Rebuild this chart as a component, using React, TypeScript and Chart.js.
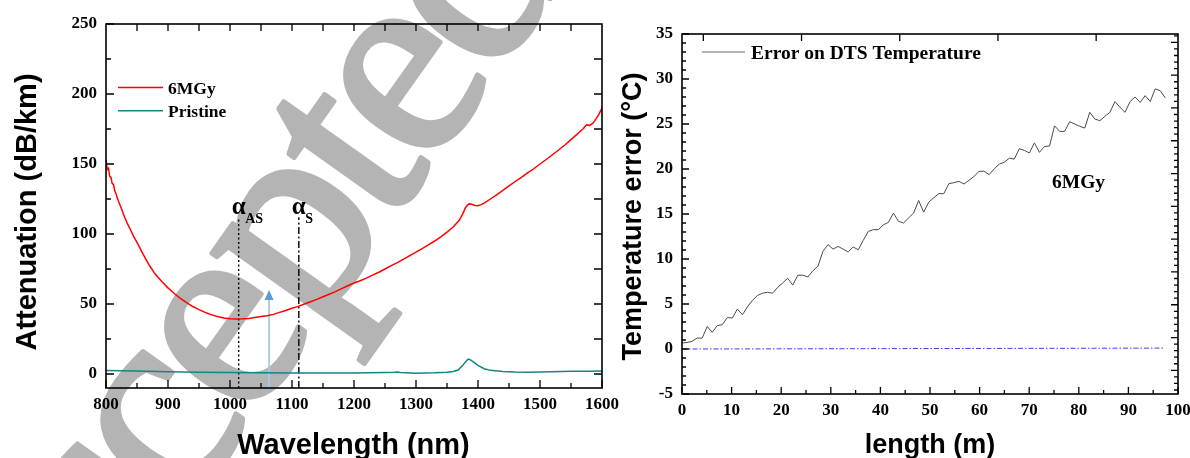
import React, { useEffect, useRef } from 'react';
import { Chart, registerables } from 'chart.js';

Chart.register(...registerables);

// ---------------- Left panel data ----------------
const wl6MGy = [800, 802, 804, 806, 808, 810, 812, 814, 816, 818, 820, 825, 830, 835, 840, 845, 850, 860, 870, 880, 890, 900, 910, 920, 930, 940, 950, 960, 970, 980, 990, 1000, 1010, 1020, 1030, 1040, 1050, 1060, 1070, 1080, 1090, 1100, 1110, 1120, 1130, 1140, 1150, 1160, 1170, 1180, 1190, 1200, 1210, 1220, 1230, 1240, 1250, 1260, 1270, 1280, 1290, 1300, 1310, 1320, 1330, 1340, 1350, 1360, 1370, 1375, 1380, 1385, 1390, 1395, 1400, 1405, 1410, 1420, 1430, 1440, 1450, 1460, 1470, 1480, 1490, 1500, 1510, 1520, 1530, 1540, 1550, 1560, 1570, 1575, 1580, 1585, 1590, 1595, 1600];
const att6MGy = [153, 146, 147, 141, 140.5, 136, 135.5, 131, 129, 126, 123.5, 118, 112, 107, 102.5, 98, 94, 85.5, 77.5, 71, 66, 61.5, 57.5, 54, 51, 48.2, 46, 44, 42.3, 41, 40, 39.5, 39.3, 39.4, 39.7, 40.3, 41, 41.6, 42.6, 44, 45.4, 47, 48.3, 50, 51.6, 53.3, 55.2, 57, 58.8, 61, 63, 65, 66.6, 68.5, 70.6, 72.7, 75, 77.4, 79.6, 82, 84.6, 87, 89.6, 92.2, 95, 98, 101.4, 105, 110, 114, 119, 121.5, 121.2, 120.4, 120.2, 121, 122, 125, 128, 131.2, 134.3, 137.5, 140.5, 143.6, 146.6, 150, 153.2, 156.6, 160, 163.6, 167.4, 171.3, 175.4, 178, 177.6, 179, 182, 185.5, 190];

const wlPristine = [800, 850, 900, 950, 1000, 1050, 1100, 1150, 1200, 1250, 1265, 1270, 1275, 1300, 1330, 1350, 1360, 1368, 1375, 1380, 1384, 1388, 1393, 1400, 1410, 1420, 1440, 1460, 1480, 1500, 1520, 1550, 1580, 1600];
const attPristine = [2.5, 2.2, 1.6, 1.3, 1.0, 0.9, 0.8, 0.8, 0.8, 1.0, 1.2, 1.4, 1.1, 0.6, 0.9, 1.3, 1.8, 2.8, 6.0, 8.8, 10.6, 10.0, 8.5, 6.2, 3.8, 2.6, 1.7, 1.4, 1.3, 1.4, 1.6, 1.9, 2.0, 2.1];

const leftSeriesLabels = ['6MGy', 'Pristine'];
const leftXTicks = [800, 900, 1000, 1100, 1200, 1300, 1400, 1500, 1600];
const leftYTicks = [0, 50, 100, 150, 200, 250];

// alpha markers (wavelength, top value) and excitation arrow
const alphaWl = [1014, 1111];
const alphaTop = [112, 112];
const alphaSubs = ['AS', 'S'];
const arrowWl = 1063;
const arrowTop = 60;

// ---------------- Right panel data ----------------
const lengthM = [0, 1.02, 2.03, 3.05, 4.06, 5.08, 6.09, 7.11, 8.12, 9.14, 10.15, 11.17, 12.18, 13.2, 14.21, 15.23, 16.24, 17.26, 18.27, 19.29, 20.3, 21.32, 22.33, 23.35, 24.36, 25.38, 26.39, 27.41, 28.42, 29.44, 30.45, 31.47, 32.48, 33.5, 34.51, 35.53, 36.54, 37.56, 38.57, 39.59, 40.6, 41.62, 42.63, 43.65, 44.66, 45.68, 46.69, 47.71, 48.72, 49.74, 50.75, 51.77, 52.78, 53.8, 54.81, 55.83, 56.84, 57.86, 58.87, 59.89, 60.9, 61.92, 62.93, 63.95, 64.96, 65.98, 66.99, 68.01, 69.02, 70.04, 71.05, 72.07, 73.08, 74.1, 75.11, 76.13, 77.14, 78.16, 79.17, 80.19, 81.2, 82.22, 83.23, 84.25, 85.26, 86.28, 87.29, 88.31, 89.32, 90.34, 91.35, 92.37, 93.38, 94.4, 95.41, 96.43, 97.44];
const tempError = [0.67, 0.72, 0.85, 1.22, 1.2, 2.5, 1.85, 2.6, 2.7, 3.5, 3.44, 4.44, 3.8, 4.7, 5.4, 5.95, 6.2, 6.3, 6.2, 6.85, 7.33, 7.85, 7.1, 8.2, 8.2, 8.0, 8.7, 9.2, 10.85, 11.6, 11.1, 11.4, 11.1, 10.78, 11.33, 11.03, 12.07, 13.07, 13.26, 13.26, 13.8, 14.07, 15.1, 14.18, 14.0, 14.56, 15.1, 16.5, 15.2, 16.3, 16.8, 17.26, 17.26, 18.37, 18.48, 18.63, 18.33, 18.74, 19.18, 19.74, 19.76, 19.37, 20.0, 20.55, 20.74, 21.2, 21.1, 22.26, 22.07, 21.78, 22.9, 21.85, 22.5, 22.55, 24.8, 24.18, 24.18, 25.26, 25.0, 24.74, 24.55, 26.3, 25.55, 25.37, 25.85, 26.3, 27.5, 26.85, 26.3, 27.5, 28.0, 27.4, 28.15, 27.5, 28.9, 28.7, 27.9];
const refLengthM = [0, 22, 97.4];
const refError = [0, 0.02, 0.1];
const rightSeriesLabel = 'Error on DTS Temperature';
const rightAnnotation = '6MGy';
const rightXTicks = [0, 10, 20, 30, 40, 50, 60, 70, 80, 90, 100];
const rightYTicks = [-5, 0, 5, 10, 15, 20, 25, 30, 35];

// ---------------- helpers ----------------
const SERIF = '"Liberation Serif", "Times New Roman", serif';
const SANS = '"Liberation Sans", Arial, sans-serif';
const tickFont = { family: SERIF, size: 17, weight: 'bold' as const };

function range(a: number, b: number, step: number): number[] {
  const r: number[] = [];
  for (let v = a; v <= b + 1e-9; v += step) r.push(+v.toFixed(4));
  return r;
}

type TickSpec = { side: 'bottom' | 'top' | 'left' | 'right'; values: number[]; len: number };

function frameTicksPlugin(specs: TickSpec[]) {
  return {
    id: 'frameTicks',
    afterDatasetsDraw(chart: any) {
      const { ctx, chartArea: a } = chart;
      const xs = chart.scales.x;
      const ys = chart.scales.y;
      ctx.save();
      ctx.strokeStyle = '#000';
      ctx.lineWidth = 1.3;
      ctx.beginPath();
      for (const s of specs) {
        for (const v of s.values) {
          if (s.side === 'bottom' || s.side === 'top') {
            const p = xs.getPixelForValue(v);
            if (p < a.left - 0.5 || p > a.right + 0.5) continue;
            const y0 = s.side === 'bottom' ? a.bottom : a.top;
            const y1 = s.side === 'bottom' ? a.bottom - s.len : a.top + s.len;
            ctx.moveTo(p, y0);
            ctx.lineTo(p, y1);
          } else {
            const p = ys.getPixelForValue(v);
            if (p < a.top - 0.5 || p > a.bottom + 0.5) continue;
            const x0 = s.side === 'left' ? a.left : a.right;
            const x1 = s.side === 'left' ? a.left + s.len : a.right - s.len;
            ctx.moveTo(x0, p);
            ctx.lineTo(x1, p);
          }
        }
      }
      ctx.stroke();
      ctx.lineWidth = 1.6;
      ctx.strokeRect(a.left, a.top, a.right - a.left, a.bottom - a.top);
      ctx.restore();
    },
  };
}

function drawWatermark(ctx: CanvasRenderingContext2D) {
  ctx.save();
  const text = 'Accepted';
  const size = 280;
  const spacing = -11;
  ctx.font = `${size}px ${SERIF}`;
  ctx.fillStyle = '#b4b4b4';
  ctx.strokeStyle = '#b4b4b4';
  ctx.lineWidth = 5;
  ctx.lineJoin = 'round';
  ctx.textBaseline = 'alphabetic';
  ctx.textAlign = 'left';
  const theta = (-54.6 * Math.PI) / 180;
  const u = { x: Math.cos(theta), y: Math.sin(theta) };
  const up = { x: Math.sin(theta), y: -Math.cos(theta) };
  // advance to the centre of the first "e" (4th glyph)
  let pre = 0;
  for (let i = 0; i < 3; i++) pre += ctx.measureText(text[i]).width + spacing;
  const eW = ctx.measureText('e').width;
  const xh = 0.46 * size;
  const target = { x: 231, y: 337 };
  const ox = target.x - u.x * (pre + eW / 2) - (up.x * xh) / 2;
  const oy = target.y - u.y * (pre + eW / 2) - (up.y * xh) / 2;
  ctx.translate(ox, oy);
  ctx.rotate(theta);
  let adv = 0;
  for (const ch of text) {
    ctx.fillText(ch, adv, 0);
    ctx.strokeText(ch, adv, 0);
    adv += ctx.measureText(ch).width + spacing;
  }
  ctx.restore();
}

// ---------------- configs ----------------
function leftConfig(): any {
  const leftSpecs: TickSpec[] = [
    { side: 'bottom', values: range(800, 1600, 100), len: 8 },
    { side: 'bottom', values: range(850, 1550, 100), len: 5 },
    { side: 'top', values: range(850, 1550, 50), len: 7 },
    { side: 'left', values: range(0, 250, 50), len: 8 },
    { side: 'left', values: range(25, 225, 50), len: 5 },
    { side: 'right', values: range(0, 225, 25), len: 8 },
  ];
  const colors = ['#ff0000', '#148585'];
  return {
    type: 'line',
    data: {
      datasets: [
        {
          label: leftSeriesLabels[1],
          data: wlPristine.map((x, i) => ({ x, y: attPristine[i] })),
          borderColor: colors[1], borderWidth: 1.5, pointRadius: 0, tension: 0,
        },
        {
          label: leftSeriesLabels[0],
          data: wl6MGy.map((x, i) => ({ x, y: att6MGy[i] })),
          borderColor: colors[0], borderWidth: 1.5, pointRadius: 0, tension: 0,
        },
        {
          label: 'alphaAS',
          data: [{ x: alphaWl[0], y: -10 }, { x: alphaWl[0], y: alphaTop[0] }],
          borderColor: '#000', borderWidth: 1.4, borderDash: [2, 2.5], pointRadius: 0,
        },
        {
          label: 'alphaS',
          data: [{ x: alphaWl[1], y: -10 }, { x: alphaWl[1], y: alphaTop[1] }],
          borderColor: '#000', borderWidth: 1.4, borderDash: [7, 2.5, 2, 2.5], pointRadius: 0,
        },
        {
          label: 'arrow',
          data: [{ x: arrowWl, y: -10 }, { x: arrowWl, y: arrowTop - 5 }],
          borderColor: '#a9c8ea', borderWidth: 1.8, pointRadius: 0,
        },
      ],
    },
    options: {
      animation: false,
      responsive: false,
      devicePixelRatio: 1,
      layout: { padding: { left: 0, top: 24, right: 38, bottom: 0 } },
      plugins: { legend: { display: false }, tooltip: { enabled: false } },
      scales: {
        x: {
          type: 'linear', min: 800, max: 1600,
          grid: { display: false, drawTicks: false }, border: { display: false },
          ticks: { font: tickFont, color: '#000', padding: 6, maxRotation: 0, callback: (v: any) => String(v) },
          afterBuildTicks: (s: any) => { s.ticks = leftXTicks.map((value) => ({ value })); },
          afterFit: (s: any) => { s.height = 70; },
        },
        y: {
          type: 'linear', min: -10, max: 250,
          grid: { display: false, drawTicks: false }, border: { display: false },
          ticks: { font: tickFont, color: '#000', padding: 9, callback: (v: any) => String(v) },
          afterBuildTicks: (s: any) => { s.ticks = leftYTicks.map((value) => ({ value })); },
          afterFit: (s: any) => { s.width = 106; },
        },
      },
    },
    plugins: [
      { id: 'wm', beforeDraw(chart: any) { drawWatermark(chart.ctx); } },
      frameTicksPlugin(leftSpecs),
      {
        id: 'leftText',
        afterDraw(chart: any) {
          const ctx: CanvasRenderingContext2D = chart.ctx;
          const xs = chart.scales.x;
          const ys = chart.scales.y;
          ctx.save();
          // arrow head
          const ax = xs.getPixelForValue(arrowWl);
          const ay = ys.getPixelForValue(arrowTop);
          ctx.fillStyle = '#5b9bd5';
          ctx.beginPath();
          ctx.moveTo(ax, ay);
          ctx.lineTo(ax - 4.5, ay + 10);
          ctx.lineTo(ax + 4.5, ay + 10);
          ctx.closePath();
          ctx.fill();
          // alpha labels
          ctx.fillStyle = '#000';
          ctx.textAlign = 'left';
          ctx.textBaseline = 'alphabetic';
          alphaWl.forEach((w, i) => {
            const lx = xs.getPixelForValue(w);
            const ty = ys.getPixelForValue(alphaTop[i]);
            ctx.font = `bold 25px ${SERIF}`;
            const aw = ctx.measureText('α').width;
            ctx.fillText('α', lx - 7, ty - 3.5);
            ctx.font = `bold 14px ${SERIF}`;
            ctx.fillText(alphaSubs[i], lx - 7 + aw - 0.5, ty + 6);
          });
          // legend
          const colors = ['#ff0000', '#148585'];
          leftSeriesLabels.forEach((lab, i) => {
            const y = 87.5 + i * 23.3;
            ctx.strokeStyle = colors[i];
            ctx.lineWidth = 1.6;
            ctx.beginPath();
            ctx.moveTo(118, y);
            ctx.lineTo(163, y);
            ctx.stroke();
            ctx.font = `bold 17.5px ${SERIF}`;
            ctx.fillText(lab, 168, y + 6);
          });
          // axis titles
          ctx.font = `bold 29px ${SANS}`;
          ctx.textAlign = 'center';
          ctx.fillText('Wavelength (nm)', 353.5, 454);
          ctx.translate(36, 212);
          ctx.rotate(-Math.PI / 2);
          ctx.fillText('Attenuation (dB/km)', 0, 0);
          ctx.restore();
        },
      },
    ],
  };
}

function rightConfig(): any {
  const rMajor: number[] = [];
  const rMinor: number[] = [];
  for (let k = -10; k <= 60; k++) {
    const v = +(34.07 - k * 0.7288).toFixed(3);
    if (v < -5 || v > 35) continue;
    if (k % 5 === 0) rMajor.push(v); else rMinor.push(v);
  }
  const rightSpecs: TickSpec[] = [
    { side: 'bottom', values: range(0, 100, 10), len: 7 },
    { side: 'bottom', values: range(5, 95, 10), len: 4 },
    { side: 'left', values: range(-5, 35, 5), len: 7 },
    { side: 'left', values: range(-5, 35, 1), len: 4 },
    { side: 'top', values: [4.3, 24.1, 43.9, 63.7, 83.5], len: 7 },
    { side: 'right', values: rMajor, len: 7 },
    { side: 'right', values: rMinor, len: 4 },
  ];
  return {
    type: 'line',
    data: {
      datasets: [
        {
          label: rightSeriesLabel,
          data: lengthM.map((x, i) => ({ x, y: tempError[i] })),
          borderColor: '#4a4a4a', borderWidth: 1, pointRadius: 0, tension: 0,
        },
        {
          label: 'reference',
          data: refLengthM.map((x, i) => ({ x, y: refError[i] })),
          borderColor: '#3b3bf5', borderWidth: 1, borderDash: [5, 2, 1.5, 2], pointRadius: 0,
        },
      ],
    },
    options: {
      animation: false,
      responsive: false,
      devicePixelRatio: 1,
      layout: { padding: { left: 0, top: 34, right: 32, bottom: 0 } },
      plugins: { legend: { display: false }, tooltip: { enabled: false } },
      scales: {
        x: {
          type: 'linear', min: 0, max: 100,
          grid: { display: false, drawTicks: false }, border: { display: false },
          ticks: { font: tickFont, color: '#000', padding: 6, maxRotation: 0, callback: (v: any) => String(v) },
          afterBuildTicks: (s: any) => { s.ticks = rightXTicks.map((value) => ({ value })); },
          afterFit: (s: any) => { s.height = 64; },
        },
        y: {
          type: 'linear', min: -5, max: 35,
          grid: { display: false, drawTicks: false }, border: { display: false },
          ticks: { font: tickFont, color: '#000', padding: 9, callback: (v: any) => String(v) },
          afterBuildTicks: (s: any) => { s.ticks = rightYTicks.map((value) => ({ value })); },
          afterFit: (s: any) => { s.width = 72; },
        },
      },
    },
    plugins: [
      frameTicksPlugin(rightSpecs),
      {
        id: 'rightText',
        afterDraw(chart: any) {
          const ctx: CanvasRenderingContext2D = chart.ctx;
          ctx.save();
          ctx.fillStyle = '#000';
          // legend
          ctx.strokeStyle = '#9a9a9a';
          ctx.lineWidth = 1.5;
          ctx.beginPath();
          ctx.moveTo(92, 52);
          ctx.lineTo(135, 52);
          ctx.stroke();
          ctx.textAlign = 'left';
          ctx.textBaseline = 'alphabetic';
          ctx.font = `bold 19.5px ${SERIF}`;
          ctx.fillText(rightSeriesLabel, 141, 59.3);
          ctx.fillText(rightAnnotation, 442, 188.3);
          // titles
          ctx.font = `bold 27px ${SANS}`;
          ctx.textAlign = 'center';
          ctx.fillText('length (m)', 320, 453);
          ctx.translate(31, 216.5);
          ctx.rotate(-Math.PI / 2);
          ctx.fillText('Temperature error (°C)', 0, 0);
          ctx.restore();
        },
      },
    ],
  };
}

export default function App() {
  const leftRef = useRef<HTMLCanvasElement>(null);
  const rightRef = useRef<HTMLCanvasElement>(null);
  useEffect(() => {
    const c1 = new Chart(leftRef.current as HTMLCanvasElement, leftConfig());
    const c2 = new Chart(rightRef.current as HTMLCanvasElement, rightConfig());
    return () => {
      c1.destroy();
      c2.destroy();
    };
  }, []);
  return (
    <div style={{ position: 'fixed', left: 0, top: 0, width: 1190, height: 458, overflow: 'hidden', background: '#fff' }}>
      <div style={{ position: 'absolute', left: 0, top: 0, width: 640, height: 458 }}>
        <canvas ref={leftRef} width={640} height={458} style={{ width: 640, height: 458, display: 'block' }} />
      </div>
      <div style={{ position: 'absolute', left: 610, top: 0, width: 600, height: 458 }}>
        <canvas ref={rightRef} width={600} height={458} style={{ width: 600, height: 458, display: 'block' }} />
      </div>
    </div>
  );
}
